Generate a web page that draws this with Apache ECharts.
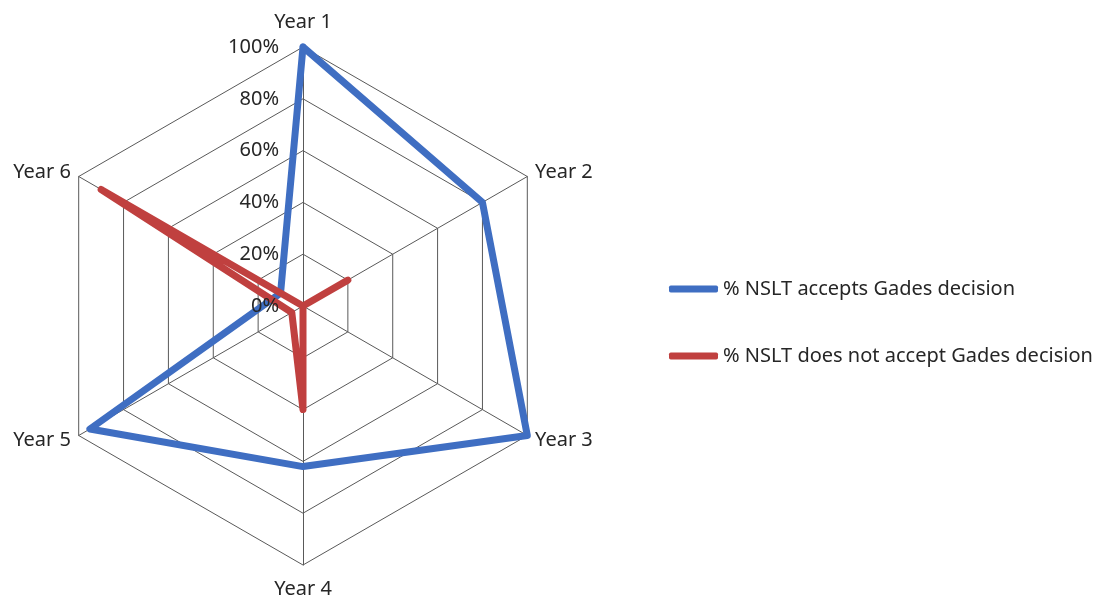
<!DOCTYPE html>
<html>
<head>
<meta charset="utf-8">
<script src="https://cdn.jsdelivr.net/npm/echarts@6/dist/echarts.min.js"></script>
<style>
  html, body { margin: 0; padding: 0; background: #ffffff; }
  #chart { width: 1104px; height: 605px; }
</style>
</head>
<body>
<div id="chart"></div>
<script>
// Survey years around the radar (clockwise from the top)
const years = ['Year 1', 'Year 2', 'Year 3', 'Year 4', 'Year 5', 'Year 6'];
// Share of responses per year, in percent
const accepts = [100, 80, 100, 62, 95, 10];
const doesNotAccept = [0, 20, 0, 40, 5, 90];
// Ring labels drawn along the first spoke
const ringTicks = [0, 20, 40, 60, 80, 100];

const seriesNames = ['% NSLT accepts Gades decision', '% NSLT does not accept Gades decision'];
const BLUE = '#3F6EC2';
const RED = '#C0403F';
const FONT = 'Noto Sans';
const TEXT = '#262626';

const cx = 303, cy = 306, R = 259;

// The radar lays indicators out counter-clockwise, so walk the years
// backwards after the first one to get a clockwise layout.
const order = [0].concat(years.slice(1).map(function (_, i) { return years.length - 1 - i; }));
const pick = function (arr) { return order.map(function (i) { return arr[i]; }); };

const chart = echarts.init(document.getElementById('chart'), null, { renderer: 'canvas' });

chart.setOption({
  backgroundColor: '#ffffff',
  animation: false,
  textStyle: { fontFamily: FONT },
  legend: {
    orient: 'vertical',
    left: 664,
    top: 274,
    itemWidth: 49,
    itemHeight: 7,
    itemGap: 47,
    icon: 'roundRect',
    textStyle: { fontFamily: FONT, fontSize: 20, color: TEXT },
    data: seriesNames
  },
  radar: {
    center: [cx, cy],
    radius: R,
    shape: 'polygon',
    startAngle: 90,
    splitNumber: 5,
    axisNameGap: 9,
    axisName: {
      color: TEXT,
      fontFamily: FONT,
      fontSize: 20,
      formatter: function (name) {
        if (name === 'Year 1') return '{top|' + name + '}';
        if (name === 'Year 4') return '{bottom|' + name + '}';
        return name;
      },
      rich: {
        top: { fontFamily: FONT, fontSize: 20, color: TEXT, padding: [0, 0, 6, 0] },
        bottom: { fontFamily: FONT, fontSize: 20, color: TEXT, padding: [5, 0, 0, 0] }
      }
    },
    indicator: pick(years).map(function (y) { return { name: y, min: 0, max: 100 }; }),
    axisLine: { lineStyle: { color: '#595959', width: 1 } },
    splitLine: { lineStyle: { color: '#595959', width: 1 } },
    splitArea: { show: false },
    axisTick: { show: false },
    axisLabel: { show: false }
  },
  // Value scale laid along the first spoke for the percent labels
  grid: { left: cx, top: cy - R, width: 1, height: R },
  xAxis: { type: 'value', show: false },
  yAxis: {
    type: 'value',
    min: ringTicks[0],
    max: ringTicks[ringTicks.length - 1],
    interval: 20,
    z: 10,
    axisLine: { show: false },
    axisTick: { show: false },
    splitLine: { show: false },
    axisLabel: {
      margin: 24,
      fontFamily: FONT,
      fontSize: 20,
      color: TEXT,
      formatter: '{value}%'
    }
  },
  series: [
    {
      type: 'radar',
      z: 2,
      symbol: 'none',
      data: [
        {
          name: seriesNames[0],
          value: pick(accepts),
          itemStyle: { color: BLUE },
          lineStyle: { color: BLUE, width: 7, join: 'round', cap: 'round' }
        },
        {
          name: seriesNames[1],
          value: pick(doesNotAccept),
          itemStyle: { color: RED },
          lineStyle: { color: RED, width: 7, join: 'round', cap: 'round' }
        }
      ]
    }
  ]
});
</script>
</body>
</html>
